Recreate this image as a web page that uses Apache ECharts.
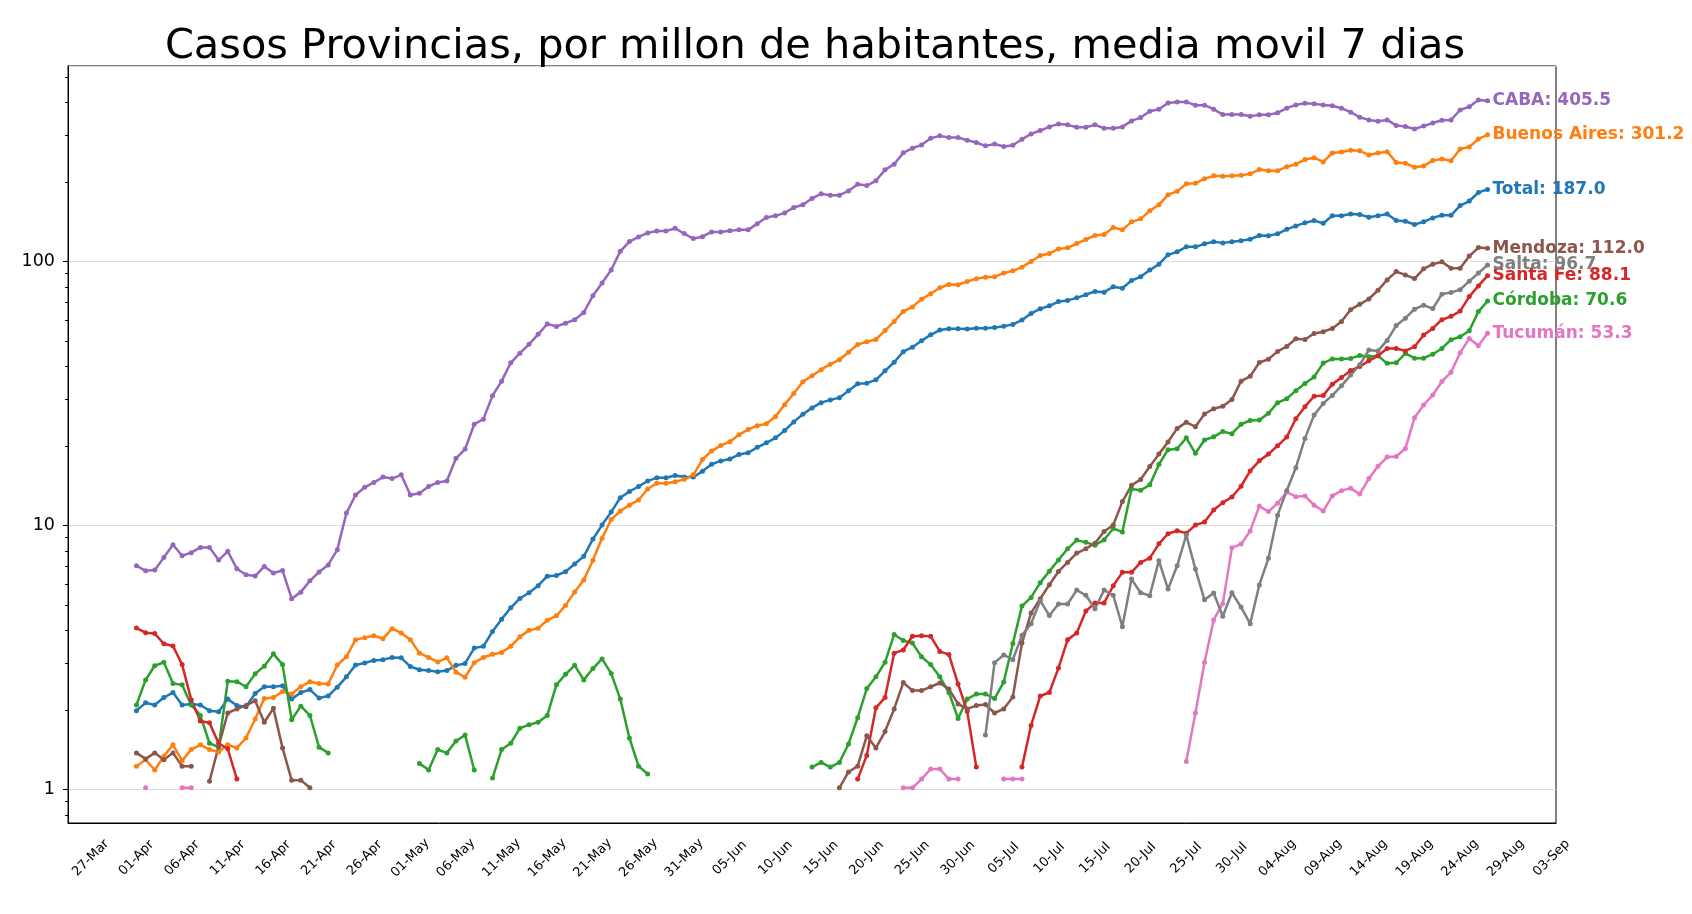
<!DOCTYPE html>
<html>
<head>
<meta charset="utf-8">
<title>Casos Provincias</title>
<script src="https://cdn.jsdelivr.net/npm/echarts@6/dist/echarts.min.js"></script>
<style>
  html, body { margin: 0; padding: 0; background: #fff; }
  #chart { width: 1692px; height: 914px; }
</style>
</head>
<body>
<div id="chart"></div>
<script>
/* casos por millon de habitantes, media movil 7 dias (desde 01-Apr) */
var MONTHS = ['Jan', 'Feb', 'Mar', 'Apr', 'May', 'Jun', 'Jul', 'Aug', 'Sep', 'Oct', 'Nov', 'Dec'];

var tickLabels = ['27-Mar', '01-Apr', '06-Apr', '11-Apr', '16-Apr', '21-Apr', '26-Apr', '01-May',
  '06-May', '11-May', '16-May', '21-May', '26-May', '31-May', '05-Jun', '10-Jun', '15-Jun',
  '20-Jun', '25-Jun', '30-Jun', '05-Jul', '10-Jul', '15-Jul', '20-Jul', '25-Jul', '30-Jul',
  '04-Aug', '09-Aug', '14-Aug', '19-Aug', '24-Aug', '29-Aug', '03-Sep'];

var yMajorTicks = [1, 10, 100];
var yMinorTicks = [0.8, 0.9, 2, 3, 4, 5, 6, 7, 8, 9, 20, 30, 40, 50, 60, 70, 80, 90, 200, 300, 400, 500];

var total = [
  1.98, 2.12, 2.08, 2.22, 2.32, 2.08, 2.10, 2.08, 1.98, 1.96, 2.19, 2.07, 2.05, 2.30, 2.44, 2.44,
  2.46, 2.19, 2.32, 2.38, 2.21, 2.25, 2.43, 2.66, 2.95, 3.00, 3.07, 3.09, 3.15, 3.14, 2.91, 2.83,
  2.81, 2.78, 2.81, 2.94, 2.99, 3.42, 3.47, 3.95, 4.40, 4.86, 5.27, 5.54, 5.89, 6.40, 6.44, 6.66,
  7.12, 7.61, 8.85, 10.0, 11.2, 12.7, 13.4, 14.0, 14.7, 15.1, 15.1, 15.4, 15.2, 15.2, 16.0,
  17.0, 17.5, 17.8, 18.5, 18.8, 19.7, 20.5, 21.4, 22.8, 24.6, 26.3, 27.8, 29.1, 29.8, 30.4, 32.3,
  34.3, 34.5, 35.5, 38.4, 41.4, 45.4, 47.2, 49.9, 52.6, 54.8, 55.4, 55.4, 55.3, 55.7, 55.7, 56.0,
  56.7, 57.6, 59.8, 63.4, 66.0, 67.7, 70.3, 71.0, 72.6, 74.6, 76.8, 76.3, 80.0, 79.0, 84.5, 87.2,
  92.5, 97.4, 105.7, 108.5, 113.3, 113.3, 116.3, 118.4, 117.3, 118.4, 119.4, 121.1, 125.1, 124.7,
  127, 132, 136, 139.7, 142.5, 139.3, 148.6, 148.6, 151, 150.2, 146.8, 148.5, 151, 142.5, 141.7,
  137.7, 140.9, 145.9, 149.3, 149.3, 162.4, 169, 182, 187.0
];

var buenosAires = [
  1.22, 1.29, 1.18, 1.33, 1.47, 1.28, 1.41, 1.47, 1.41, 1.38, 1.47, 1.43, 1.56, 1.84, 2.20, 2.22,
  2.34, 2.29, 2.44, 2.55, 2.51, 2.50, 2.95, 3.17, 3.68, 3.74, 3.81, 3.71, 4.05, 3.90, 3.68, 3.27,
  3.15, 3.03, 3.14, 2.77, 2.65, 3.01, 3.15, 3.24, 3.29, 3.47, 3.77, 3.99, 4.06, 4.36, 4.53, 4.96,
  5.58, 6.19, 7.36, 8.91, 10.5, 11.3, 11.9, 12.45, 13.7, 14.4, 14.4, 14.6, 14.9, 15.5, 17.7,
  19.1, 20.0, 20.7, 22.0, 23.0, 23.8, 24.2, 25.8, 28.6, 31.5, 34.9, 36.8, 38.8, 40.7, 42.3, 45.2,
  48.3, 49.5, 50.5, 54.6, 59.1, 64.5, 67.1, 71.8, 75.2, 79.3, 81.6, 81.4, 83.8, 85.8, 87.0, 87.3,
  90.1, 91.9, 94.9, 99.7, 105.1, 106.9, 111.3, 112.3, 116.6, 120.8, 125.1, 126.2, 134.1, 131.4,
  140.9, 144.7, 155.1, 163.5, 178.4, 184.2, 196.3, 197.5, 205.1, 210.5, 210.0, 210.5, 211.7, 214.2,
  222.4, 219.9, 220, 228, 233, 242.6, 246.7, 237.7, 257, 259, 263, 262, 252.7, 257, 260, 236.4,
  235, 227, 229.6, 240.5, 244, 240, 266, 271, 290.5, 301.2
];

var caba = [
  7.01, 6.71, 6.75, 7.54, 8.42, 7.65, 7.86, 8.23, 8.23, 7.37, 7.95, 6.83, 6.48, 6.41, 6.97, 6.58,
  6.73, 5.26, 5.57, 6.15, 6.64, 7.06, 8.07, 11.1, 13.0, 13.9, 14.5, 15.2, 15.0, 15.5, 13.0, 13.2,
  14.0, 14.5, 14.7, 17.9, 19.4, 24.1, 25.2, 30.9, 35.1, 41.2, 44.8, 48.4, 52.8, 57.8, 56.6, 58.2,
  60.0, 63.9, 74.0, 82.7, 92.6, 109, 118.6, 123.5, 128, 130.2, 130, 133.3, 127.2, 121.8, 123.8,
  129.1, 129.1, 130.3, 131.4, 131.4, 138.5, 146.3, 148.5, 152.4, 159.7, 163.5, 172.8, 179.9, 177.8,
  177.8, 184.6, 195.7, 193.4, 201.6, 221.8, 233.1, 257.3, 267.9, 275.8, 292.4, 298.4, 294.1, 294.1,
  287.3, 281.6, 273.5, 278, 271.9, 275.1, 289.8, 303.6, 312.6, 322.7, 331.3, 328.5, 321.8, 321.8,
  328.5, 319.0, 319.0, 322.7, 340.1, 350.1, 370, 376.5, 397.8, 401.3, 401.3, 389.9, 389.9, 376.5,
  359.4, 359.4, 359.4, 354.2, 358.4, 358.4, 365, 380, 391, 397, 395, 391, 388, 380, 367, 351, 343,
  339, 343, 327, 324, 317, 325, 334, 342, 343, 374, 385, 408, 405.5
];

/* provincias con huecos: [primer dia, valores] */
var cordoba = [
  ['01-Apr', [2.08, 2.59, 2.93, 3.02, 2.51, 2.48, 2.08, 1.90, 1.49, 1.44, 2.56, 2.55, 2.44, 2.73,
    2.92, 3.25, 2.96, 1.83, 2.06, 1.90, 1.44, 1.37]],
  ['02-May', [1.25, 1.18, 1.41, 1.37, 1.52, 1.60, 1.18]],
  ['10-May', [1.10, 1.41, 1.49, 1.70, 1.75, 1.79, 1.90, 2.48, 2.72, 2.94, 2.59, 2.86, 3.11, 2.74,
    2.19, 1.56, 1.22, 1.14]],
  ['14-Jun', [1.21, 1.26, 1.21, 1.26, 1.48, 1.86, 2.40, 2.66, 3.02, 3.85, 3.65, 3.57, 3.17, 2.96,
    2.66, 2.32, 1.85, 2.19, 2.29, 2.29, 2.20, 2.54, 3.56, 4.93, 5.32, 6.05, 6.69, 7.37, 8.13, 8.77,
    8.60, 8.39, 8.79, 9.71, 9.41, 13.7, 13.55, 14.2, 16.96, 19.3, 19.45, 21.4, 18.7, 21.0, 21.6,
    22.6, 22.2, 24.1, 24.9, 25.0, 26.5, 29.1, 30.1, 32.3, 34.4, 36.4, 41.1, 42.6, 42.6, 42.8, 43.9,
    43.4, 43.8, 41.0, 41.2, 44.7, 42.9, 42.9, 44.4, 46.7, 50.4, 51.7, 54.5, 64.4, 70.6]]
];

var santaFe = [
  ['01-Apr', [4.07, 3.91, 3.88, 3.55, 3.48, 2.96, 2.18, 1.81, 1.78, 1.49, 1.42, 1.09]],
  ['19-Jun', [1.09, 1.34, 2.03, 2.22, 3.27, 3.36, 3.79, 3.81, 3.79, 3.32, 3.23, 2.50, 1.97, 1.21]],
  ['07-Jul', [1.21, 1.74, 2.25, 2.32, 2.87, 3.68, 3.90, 4.72, 5.07, 5.07, 5.89, 6.62, 6.62, 7.22,
    7.49, 8.49, 9.27, 9.52, 9.32, 10.0, 10.26, 11.4, 12.16, 12.78, 14.03, 16.04, 17.51, 18.57,
    19.97, 21.54, 25.3, 28.1, 30.76, 31.0, 34.2, 36.2, 38.5, 39.9, 41.9, 43.8, 46.7, 46.7, 45.7,
    47.4, 52.5, 55.6, 60.0, 61.8, 64.7, 73.4, 80.6, 88.1]]
];

var mendoza = [
  ['01-Apr', [1.37, 1.30, 1.37, 1.29, 1.37, 1.22, 1.22]],
  ['09-Apr', [1.07, 1.45, 1.94, 2.01, 2.07, 2.16, 1.79, 2.02, 1.43, 1.08, 1.08, 1.01]],
  ['17-Jun', [1.01, 1.16, 1.22, 1.59, 1.43, 1.65, 2.01, 2.53, 2.36, 2.36, 2.44, 2.52, 2.39, 2.10,
    2.01, 2.07, 2.09, 1.94, 2.01, 2.23, 3.57, 4.64, 5.26, 5.94, 6.67, 7.22, 7.83, 8.13, 8.54, 9.46,
    10.0, 12.27, 14.15, 14.87, 16.67, 18.57, 20.63, 23.24, 24.5, 23.6, 26.35, 27.6, 28.2, 29.9,
    35.1, 36.6, 41.3, 42.5, 45.5, 47.5, 50.8, 50.5, 53.2, 54.0, 55.6, 59.1, 65.5, 68.6, 71.9, 77.6,
    84.9, 91.3, 88.7, 85.9, 93.5, 97.4, 99.4, 94.1, 94.1, 104.5, 112.6, 112.0]]
];

var tucuman = [
  ['02-Apr', [1.01]],
  ['06-Apr', [1.01, 1.01]],
  ['24-Jun', [1.01, 1.01, 1.09, 1.19, 1.19, 1.09, 1.09]],
  ['05-Jul', [1.09, 1.09, 1.09]],
  ['25-Jul', [1.27, 1.94, 3.02, 4.37, 5.04, 8.2, 8.47, 9.5, 11.8, 11.25, 12.1, 13.35, 12.8, 12.9,
    11.9, 11.3, 12.9, 13.5, 13.8, 13.1, 15.0, 16.7, 18.1, 18.2, 19.5, 25.5, 28.5, 31.1, 35.0, 37.9,
    45.0, 50.9, 47.8, 53.3]]
];

var salta = [
  ['03-Jul', [1.60, 3.01, 3.22, 3.09, 3.82, 4.23, 5.17, 4.54, 5.02, 5.02, 5.67, 5.42, 4.82, 5.67,
    5.42, 4.12, 6.24, 5.54, 5.40, 7.33, 5.72, 7.01, 9.17, 6.81, 5.21, 5.53, 4.51, 5.54, 4.89, 4.23,
    5.93, 7.48, 10.9, 13.5, 16.5, 21.3, 26.1, 28.9, 31.0, 33.7, 37.0, 40.5, 46.1, 45.7, 50.1, 57.0,
    60.8, 65.8, 68.1, 66.1, 75.0, 76.1, 78.0, 84.0, 90.1, 96.7]]
];

// eje x: un dia por categoria, 25-Mar a 03-Sep
var categories = [];
for (var t = Date.UTC(2020, 2, 25); t <= Date.UTC(2020, 8, 3); t += 86400000) {
  var dt = new Date(t);
  categories.push(('0' + dt.getUTCDate()).slice(-2) + '-' + MONTHS[dt.getUTCMonth()]);
}

function fromSegments(segments) {
  var out = categories.map(function () { return null; });
  segments.forEach(function (seg) {
    var start = categories.indexOf(seg[0]);
    seg[1].forEach(function (v, i) { out[start + i] = v; });
  });
  return out;
}

function fromApril(values) {
  return fromSegments([['01-Apr', values]]);
}

function isTick(index) {
  return tickLabels.indexOf(categories[index]) >= 0;
}

var FONT = 'DejaVu Sans';

function makeSeries(name, color, data) {
  return {
    name: name,
    type: 'line',
    data: data,
    color: color,
    symbol: 'circle',
    symbolSize: 5,
    showSymbol: true,
    showAllSymbol: true,
    connectNulls: false,
    silent: true,
    lineStyle: {width: 2.5, color: color},
    itemStyle: {color: color},
    emphasis: {disabled: true},
    endLabel: {
      show: true,
      distance: 5,
      color: color,
      fontFamily: FONT,
      fontWeight: 'bold',
      fontSize: 17,
      formatter: function (p){
        return p.seriesName + ': ' + Number(p.value).toFixed(1);
      }
    }
  };
}

var chart = echarts.init(document.getElementById('chart'), null, {renderer: 'canvas'});

var option = {
  animation: false,
  backgroundColor: '#fff',
  title: {
    text: 'Casos Provincias, por millon de habitantes, media movil 7 dias',
    left: 810,
    top: 21,
    textAlign: 'center',
    textStyle: {fontFamily: FONT, fontSize: 41.5, fontWeight: 'normal', color: '#000'}
  },
  grid: {
    left: 68, right: 136, top: 66, bottom: 91,
    show: true, borderColor: '#000', borderWidth: 1
  },
  xAxis: {
    type: 'category',
    data: categories,
    boundaryGap: true,
    axisLine: {lineStyle: {color: '#000', width: 1}},
    axisTick: {alignWithLabel: true, interval: isTick, length: 6, lineStyle: {color: '#000'}},
    axisLabel: {
      interval: isTick, rotate: 45, align: 'center', verticalAlign: 'middle',
      margin: 35, fontFamily: FONT, fontSize: 13, color: '#000'
    },
    splitLine: {show: false}
  },
  yAxis: {
    type: 'log',
    logBase: 10,
    min: 0.743,
    max: 549,
    axisLine: {show: true, lineStyle: {color: '#000', width: 1}},
    axisTick: {show: false},
    axisLabel: {
      showMinLabel: false, showMaxLabel: false, margin: 13,
      fontFamily: FONT, fontSize: 17.5, color: '#000',
      formatter: function (v){ return String(Math.round(v)); }
    },
    splitLine: {show: true, lineStyle: {color: '#dcdcdc', width: 1}}
  },
  series: [
    makeSeries('Total', '#1f77b4', fromApril(total)),
    makeSeries('Buenos Aires', '#ff7f0e', fromApril(buenosAires)),
    makeSeries('Córdoba', '#2ca02c', fromSegments(cordoba)),
    makeSeries('Santa Fe', '#d62728', fromSegments(santaFe)),
    makeSeries('CABA', '#9467bd', fromApril(caba)),
    makeSeries('Mendoza', '#8c564b', fromSegments(mendoza)),
    makeSeries('Tucumán', '#e377c2', fromSegments(tucuman)),
    makeSeries('Salta', '#7f7f7f', fromSegments(salta))
  ]
};

chart.setOption(option);

// marcas del eje log (mayores y menores) a partir de la escala del eje
var axisX = 68;
var marks = [];
yMajorTicks.concat(yMinorTicks).forEach(function (v){
  var y = Math.round(chart.convertToPixel({yAxisIndex: 0}, v)) + 0.5;
  var len = yMajorTicks.indexOf(v) >= 0 ? 5 : 3;
  marks.push({
    type: 'line',
    silent: true,
    shape: {x1: axisX - len, y1: y, x2: axisX, y2: y},
    style: {stroke: '#000', lineWidth: 1}
  });
});
chart.setOption({graphic: marks});
</script>
</body>
</html>
